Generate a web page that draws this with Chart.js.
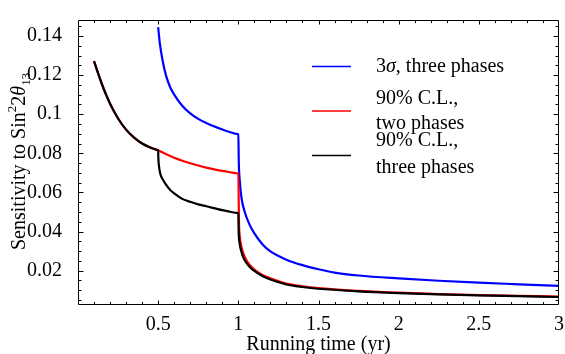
<!DOCTYPE html>
<html>
<head>
<meta charset="utf-8">
<script src="https://cdn.jsdelivr.net/npm/chart.js@4.4.1/dist/chart.umd.min.js"></script>
<style>
  html, body { margin: 0; padding: 0; background: #fff; }
  #wrap { width: 565px; height: 354px; }
</style>
</head>
<body>
<div id="wrap"><canvas id="sensChart" width="565" height="354"></canvas></div>
<script>
// Sensitivity curves vs. running time
const threeX = [0.1, 0.125, 0.15, 0.175, 0.2, 0.25, 0.3, 0.35, 0.4, 0.45, 0.475, 0.49, 0.5,
  0.501, 0.505, 0.515, 0.53, 0.55, 0.575, 0.6, 0.65, 0.7, 0.75, 0.8, 0.9, 0.95, 0.99, 1.0,
  1.002, 1.008, 1.018, 1.035, 1.07, 1.1, 1.15, 1.2, 1.3, 1.4, 1.5, 1.75, 2.0, 2.25, 2.5, 2.75, 3.0];
const threeY = [0.1272, 0.121, 0.1152, 0.11, 0.1054, 0.0978, 0.0921, 0.088, 0.085, 0.083, 0.0822, 0.0818, 0.0816,
  0.078, 0.0735, 0.069, 0.0665, 0.0638, 0.0612, 0.0595, 0.0567, 0.0552, 0.0539, 0.0529, 0.0509, 0.0501, 0.0495, 0.0493,
  0.040, 0.034, 0.030, 0.026, 0.022, 0.0198, 0.0172, 0.0154, 0.0129, 0.0116, 0.0107, 0.0094, 0.0085, 0.0078, 0.0073, 0.0069, 0.0065];

const twoX = [0.1, 0.125, 0.15, 0.175, 0.2, 0.25, 0.3, 0.35, 0.4, 0.45, 0.5,
  0.55, 0.6, 0.65, 0.7, 0.8, 0.9, 0.95, 0.99, 1.0,
  1.004, 1.01, 1.02, 1.04, 1.07, 1.1, 1.15, 1.2, 1.3, 1.4, 1.5, 1.75, 2.0, 2.25, 2.5, 2.75, 3.0];
const twoY = [0.1272, 0.121, 0.1152, 0.11, 0.1054, 0.0978, 0.0921, 0.088, 0.085, 0.083, 0.0816,
  0.0795, 0.0777, 0.0762, 0.0749, 0.0727, 0.071, 0.0703, 0.0698, 0.0697,
  0.045, 0.037, 0.032, 0.027, 0.023, 0.0205, 0.0178, 0.0161, 0.0134, 0.012, 0.011, 0.0096, 0.0087, 0.008, 0.0075, 0.0071, 0.0067];

const sigmaX = [0.5, 0.51, 0.53, 0.55, 0.575, 0.6, 0.65, 0.7, 0.75, 0.8, 0.9, 0.95, 0.99, 1.0,
  1.003, 1.01, 1.02, 1.04, 1.07, 1.1, 1.15, 1.2, 1.3, 1.4, 1.5, 1.6, 1.75, 2.0, 2.25, 2.5, 2.75, 3.0];
const sigmaY = [0.1445, 0.1365, 0.1265, 0.1195, 0.1138, 0.11, 0.1043, 0.1004, 0.0976, 0.0955, 0.0922, 0.0908, 0.0899, 0.0897,
  0.075, 0.065, 0.057, 0.050, 0.0435, 0.039, 0.0335, 0.0298, 0.0256, 0.0228, 0.0207, 0.019, 0.0175, 0.016, 0.0148, 0.0138, 0.013, 0.0122];

const xTickValues = [0.5, 1, 1.5, 2, 2.5, 3];
const xTickLabels = ['0.5', '1', '1.5', '2', '2.5', '3'];
const yTickValues = [0.02, 0.04, 0.06, 0.08, 0.1, 0.12, 0.14];
const yTickLabels = ['0.02', '0.04', '0.06', '0.08', '0.1', '0.12', '0.14'];

const legendLabels = [
  ['3\u03c3, three phases'],
  ['90% C.L.,', 'two phases'],
  ['90% C.L.,', 'three phases']
];
const legendColors = ['#0000ff', '#ff0000', '#000000'];

const serif = "'Liberation Serif', 'DejaVu Serif', serif";
Chart.defaults.font.family = serif;

function toPoints(xs, ys) {
  return xs.map((x, i) => ({ x: x, y: ys[i] }));
}

// frame around the plot with inward major/minor ticks on all four sides
const frameTicks = {
  id: 'frameTicks',
  afterDatasetsDraw(chart) {
    const { ctx, chartArea: a, scales: { x, y } } = chart;
    const L = Math.round(a.left) + 0.5, R = Math.round(a.right) - 0.5;
    const T = Math.round(a.top) + 0.5, B = Math.round(a.bottom) - 0.5;
    ctx.save();
    ctx.strokeStyle = '#000';
    ctx.lineWidth = 1;
    ctx.beginPath();
    ctx.rect(L, T, R - L, B - T);
    for (let i = 1; i < 30; i++) {
      const v = i / 10;
      const major = i % 5 === 0;
      const len = major ? 4 : 2.5;
      const px = Math.round(x.getPixelForValue(v)) + 0.5;
      ctx.moveTo(px, B); ctx.lineTo(px, B - len);
      ctx.moveTo(px, T); ctx.lineTo(px, T + len);
    }
    for (let i = 1; i < 30; i++) {
      const v = i * 0.005;
      const major = i % 4 === 0;
      const len = major ? 5 : 3;
      const py = Math.round(y.getPixelForValue(v)) + 0.5;
      ctx.moveTo(L, py); ctx.lineTo(L + len, py);
      ctx.moveTo(R, py); ctx.lineTo(R - len, py);
    }
    ctx.stroke();
    ctx.restore();
  }
};

// legend inside the plot area
const insetLegend = {
  id: 'insetLegend',
  afterDraw(chart) {
    const ctx = chart.ctx;
    const lineY = [66.5, 111, 155.5];
    const baselines = [[72], [104, 129], [146, 172.5]];
    ctx.save();
    ctx.font = '20px ' + serif;
    ctx.fillStyle = '#000';
    ctx.textBaseline = 'alphabetic';
    legendLabels.forEach((lines, i) => {
      ctx.strokeStyle = legendColors[i];
      ctx.lineWidth = 1.5;
      ctx.beginPath();
      ctx.moveTo(312, lineY[i]);
      ctx.lineTo(351, lineY[i]);
      ctx.stroke();
      lines.forEach((t, j) => {
        if (t.startsWith('3\u03c3')) {
          // italic sigma
          ctx.font = '20px ' + serif;
          ctx.fillText('3', 376, baselines[i][j]);
          let w = ctx.measureText('3').width;
          ctx.font = 'italic 20px ' + serif;
          ctx.fillText('\u03c3', 376 + w, baselines[i][j]);
          w += ctx.measureText('\u03c3').width;
          ctx.font = '20px ' + serif;
          ctx.fillText(t.slice(2), 376 + w, baselines[i][j]);
        } else {
          ctx.fillText(t, 376, baselines[i][j]);
        }
      });
    });
    ctx.restore();
  }
};

// rotated y-axis title with superscript, italic theta and subscript
const yTitle = {
  id: 'yTitle',
  afterDraw(chart) {
    const ctx = chart.ctx;
    ctx.save();
    ctx.translate(25, 250);
    ctx.rotate(-Math.PI / 2);
    ctx.fillStyle = '#000';
    ctx.textBaseline = 'alphabetic';
    let cx = 0;
    const piece = (text, font, dy) => {
      ctx.font = font;
      ctx.fillText(text, cx, dy);
      cx += ctx.measureText(text).width;
    };
    piece('Sensitivity to Sin', '20px ' + serif, 0);
    piece('2', '13px ' + serif, -9);
    piece('2', '20px ' + serif, 0);
    piece('\u03b8', 'italic 20px ' + serif, 0);
    piece('13', '13px ' + serif, 5);
    ctx.restore();
  }
};

const ctx = document.getElementById('sensChart').getContext('2d');

new Chart(ctx, {
  type: 'scatter',
  data: {
    datasets: [
      {
        label: '90% C.L., three phases',
        data: toPoints(threeX, threeY),
        borderColor: '#000000',
        borderWidth: 2.2
      },
      {
        label: '90% C.L., two phases',
        data: toPoints(twoX, twoY),
        borderColor: '#ff0000',
        borderWidth: 2.2
      },
      {
        label: '3\u03c3, three phases',
        data: toPoints(sigmaX, sigmaY),
        borderColor: '#0000ff',
        borderWidth: 2.2
      }
    ]
  },
  options: {
    responsive: false,
    animation: false,
    events: [],
    showLine: true,
    elements: {
      point: { radius: 0 },
      line: { cubicInterpolationMode: 'monotone', fill: false, borderCapStyle: 'butt' }
    },
    layout: { padding: { left: 0, right: 6, top: 7, bottom: 0 } },
    plugins: {
      legend: { display: false },
      tooltip: { enabled: false }
    },
    scales: {
      x: {
        type: 'linear',
        min: 0,
        max: 3,
        grid: { display: false },
        border: { display: false },
        afterBuildTicks: s => { s.ticks = xTickValues.map(v => ({ value: v })); },
        afterFit: s => { s.height = 49; },
        ticks: {
          color: '#000',
          padding: 0,
          maxRotation: 0,
          autoSkip: false,
          font: { family: serif, size: 20 },
          callback: (v, i) => xTickLabels[i]
        },
        title: {
          display: true,
          text: 'Running time (yr)',
          color: '#000',
          font: { family: serif, size: 20, lineHeight: 1 },
          padding: { top: 0, bottom: -1 }
        }
      },
      y: {
        type: 'linear',
        min: 0.0024,
        max: 0.1482,
        grid: { display: false },
        border: { display: false },
        afterBuildTicks: s => { s.ticks = yTickValues.map(v => ({ value: v })); },
        afterFit: s => { s.width = 78; },
        ticks: {
          color: '#000',
          padding: 8,
          autoSkip: false,
          font: { family: serif, size: 20 },
          callback: (v, i) => yTickLabels[i]
        }
      }
    }
  },
  plugins: [frameTicks, insetLegend, yTitle]
});
</script>
</body>
</html>
